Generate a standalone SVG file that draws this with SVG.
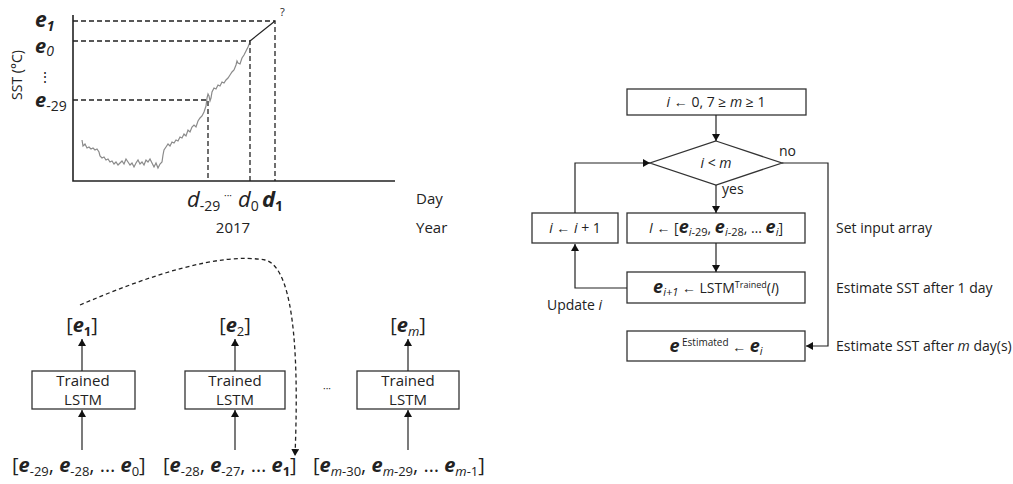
<svg xmlns="http://www.w3.org/2000/svg" width="1013" height="484" viewBox="0 0 1013 484">
<defs>
<marker id="ah" markerWidth="7" markerHeight="8" refX="7" refY="4" orient="auto" markerUnits="userSpaceOnUse"><path d="M0,0 L7,4 L0,8 Z" fill="#111"/></marker>
<style>
.t{font-family:"Open Sans","Noto Sans",sans-serif;fill:#222}
.ln{stroke:#222;stroke-width:1.2;fill:none}
.ax{stroke:#222;stroke-width:1.6;fill:none}
.ds{stroke:#222;stroke-width:1.3;fill:none;stroke-dasharray:5,3}
.bx{fill:#fff;stroke:#333;stroke-width:1.3}
.e{font-weight:bold;font-style:italic}
.it{font-style:italic}
</style>
</defs>
<rect width="1013" height="484" fill="#fff"/>

<g id="chart">
<polyline fill="none" stroke="#8a8a8a" stroke-width="1.2" points="82,140 83,146 85,144 87,148 89,147 91,149 93,148 95,150 97,149 99,152 100,156 102,158 104,157 106,160 108,159 110,162 112,161 114,164 116,162 118,165 120,163 122,161 124,164 126,159 128,162 130,165 132,163 134,167 136,163 138,160 140,164 142,162 144,165 146,160 148,162 150,159 152,163 154,167 156,163 158,168 160,164 162,162 163,155 164,150 166,147 168,144 170,146 172,142 174,143 176,140 178,141 180,137 182,138 184,134 186,136 188,130 190,132 192,127 194,125 196,127 198,121 200,118 202,116 204,112 206,106 207,98 208,94 209,96 210,101 211,98 212,92 214,88 216,89 218,85 220,86 222,82 224,83 226,80 228,78 230,75 232,72 234,70 236,65 237,61 238,63 240,64 242,58 244,55 246,51 248,47 250,42"/>
<polyline class="ax" points="73,15 73,181 395,181"/>
<polyline class="ds" points="73,21 275,21 275,181"/>
<polyline class="ds" points="73,41 250,41 250,181"/>
<polyline class="ds" points="73,100 208,100 208,181"/>
<line class="ln" x1="250" y1="41" x2="275" y2="21"/>
<text class="t" x="280" y="16" font-size="11">?</text>
<text class="t" x="35" y="27" font-size="21"><tspan class="e">e</tspan><tspan class="e" font-size="14" dy="4">1</tspan></text>
<text class="t" x="35" y="53" font-size="20"><tspan class="e" font-weight="600">e</tspan><tspan class="it" font-size="14" dy="3">0</tspan></text>
<text class="t" x="38" y="82" font-size="14">⋮</text>
<text class="t" x="35" y="107" font-size="20"><tspan class="e" font-weight="600">e</tspan><tspan font-size="14" dy="4">-29</tspan></text>
<text class="t" transform="translate(22,75) rotate(-90)" text-anchor="middle" font-size="14" fill="#444">SST (°C)</text>
<text class="t" x="187" y="207" font-size="22"><tspan class="it">d</tspan><tspan font-size="14" dy="4">-29</tspan></text>
<text class="t" x="224" y="199" font-size="10" fill="#555">···</text>
<text class="t" x="238" y="207" font-size="22"><tspan class="it">d</tspan><tspan font-size="14" dy="4">0</tspan></text>
<text class="t" x="262" y="207" font-size="22"><tspan class="e">d</tspan><tspan font-size="14" font-weight="bold" dy="4">1</tspan></text>
<text class="t" x="233" y="233" font-size="15" text-anchor="middle">2017</text>
<text class="t" x="416" y="204" font-size="15">Day</text>
<text class="t" x="416" y="233" font-size="15">Year</text>
</g>

<g id="lstm1">
<rect class="bx" x="32" y="371" width="103" height="38"/>
<text class="t" x="83" y="386" font-size="15" text-anchor="middle" fill="#444">Trained</text>
<text class="t" x="83" y="405" font-size="15" text-anchor="middle" fill="#444">LSTM</text>
<text class="t" x="82" y="332" font-size="20" text-anchor="middle">[<tspan class="e">e</tspan><tspan font-size="13" font-weight="bold" dy="4">1</tspan><tspan dy="-4">]</tspan></text>
</g>
<g id="lstm2">
<rect class="bx" x="185" y="371" width="100" height="38"/>
<text class="t" x="235" y="386" font-size="15" text-anchor="middle" fill="#444">Trained</text>
<text class="t" x="235" y="405" font-size="15" text-anchor="middle" fill="#444">LSTM</text>
<text class="t" x="235" y="332" font-size="20" text-anchor="middle">[<tspan class="e">e</tspan><tspan font-size="13" dy="4">2</tspan><tspan dy="-4">]</tspan></text>
</g>
<g id="lstm3">
<rect class="bx" x="357" y="371" width="102" height="38"/>
<text class="t" x="408" y="386" font-size="15" text-anchor="middle" fill="#444">Trained</text>
<text class="t" x="408" y="405" font-size="15" text-anchor="middle" fill="#444">LSTM</text>
<text class="t" x="408" y="332" font-size="20" text-anchor="middle">[<tspan class="e">e</tspan><tspan class="it" font-size="13" dy="4">m</tspan><tspan dy="-4">]</tspan></text>
</g>
<text class="t" x="323" y="392" font-size="10" fill="#888">···</text>
<g id="inputs">
<text class="t" x="12" y="472" font-size="20">[<tspan class="e">e</tspan><tspan font-size="13" dy="4">-29</tspan><tspan dy="-4">,  </tspan><tspan class="e">e</tspan><tspan font-size="13" dy="4">-28</tspan><tspan dy="-4">,  … </tspan><tspan class="e">e</tspan><tspan font-size="13" dy="4">0</tspan><tspan dy="-4">]</tspan></text>
<text class="t" x="163" y="472" font-size="20">[<tspan class="e">e</tspan><tspan font-size="13" dy="4">-28</tspan><tspan dy="-4">,  </tspan><tspan class="e">e</tspan><tspan font-size="13" dy="4">-27</tspan><tspan dy="-4">,  … </tspan><tspan class="e">e</tspan><tspan font-size="13" font-weight="bold" dy="4">1</tspan><tspan dy="-4">]</tspan></text>
<text class="t" x="313" y="472" font-size="20">[<tspan class="e">e</tspan><tspan font-size="13" dy="4"><tspan class="it">m</tspan>-30</tspan><tspan dy="-4">,  </tspan><tspan class="e">e</tspan><tspan font-size="13" dy="4"><tspan class="it">m</tspan>-29</tspan><tspan dy="-4">,  … </tspan><tspan class="e">e</tspan><tspan font-size="13" dy="4"><tspan class="it">m</tspan>-1</tspan><tspan dy="-4">]</tspan></text>
</g>

<g id="flow-init">
<rect class="bx" x="627" y="89" width="179" height="26"/>
<text class="t" x="716" y="107" font-size="14" text-anchor="middle"><tspan class="it">i</tspan> ← 0, 7 ≥ <tspan class="it">m</tspan> ≥ 1</text>
</g>
<g id="flow-cond">
<polygon class="bx" points="716,141 782,163 716,185 650,163"/>
<text class="t" x="716" y="168" font-size="14" text-anchor="middle"><tspan class="it">i</tspan> &lt; <tspan class="it">m</tspan></text>
</g>
<g id="flow-input">
<rect class="bx" x="627" y="213" width="178" height="30"/>
<text class="t" x="716" y="233" font-size="14" text-anchor="middle"><tspan class="it">I</tspan> ← [<tspan class="e" font-size="18">e</tspan><tspan class="it" font-size="11" dy="3">i</tspan><tspan font-size="11">-29</tspan><tspan dy="-3">,  </tspan><tspan class="e" font-size="18">e</tspan><tspan class="it" font-size="11" dy="3">i</tspan><tspan font-size="11">-28</tspan><tspan dy="-3">,  … </tspan><tspan class="e" font-size="18">e</tspan><tspan class="it" font-size="11" dy="3">i</tspan><tspan dy="-3">]</tspan></text>
</g>
<g id="flow-incr">
<rect class="bx" x="532" y="213" width="86" height="30"/>
<text class="t" x="575" y="233" font-size="14" text-anchor="middle"><tspan class="it">i</tspan> ← <tspan class="it">i</tspan> + 1</text>
</g>
<g id="flow-lstm">
<rect class="bx" x="627" y="272" width="178" height="31"/>
<text class="t" x="716" y="293" font-size="14" text-anchor="middle"><tspan class="e" font-size="18">e</tspan><tspan class="it" font-size="11" dy="3">i+1</tspan><tspan dy="-3"> ← LSTM</tspan><tspan font-size="9" dy="-5">Trained</tspan><tspan dy="5">(</tspan><tspan class="it">I</tspan>)</text>
</g>
<g id="flow-est">
<rect class="bx" x="627" y="331" width="178" height="30"/>
<text class="t" x="716" y="352" font-size="14" text-anchor="middle"><tspan class="e" font-size="18">e</tspan><tspan font-size="10" dy="-6"> Estimated</tspan><tspan dy="6">  ← </tspan><tspan class="e" font-size="18">e</tspan><tspan class="it" font-size="11" dy="3">i</tspan></text>
</g>

<g id="connectors">
<line class="ln" x1="82" y1="450" x2="82" y2="410" marker-end="url(#ah)"/>
<line class="ln" x1="82" y1="371" x2="82" y2="339" marker-end="url(#ah)"/>
<line class="ln" x1="235" y1="450" x2="235" y2="410" marker-end="url(#ah)"/>
<line class="ln" x1="235" y1="371" x2="235" y2="339" marker-end="url(#ah)"/>
<line class="ln" x1="408" y1="450" x2="408" y2="410" marker-end="url(#ah)"/>
<line class="ln" x1="408" y1="371" x2="408" y2="339" marker-end="url(#ah)"/>
<path d="M80,305 C150,275 220,252 265,260 C298,268 298,380 295,456" fill="none" stroke="#222" stroke-width="1.3" stroke-dasharray="4,3" marker-end="url(#ah)"/>
<line class="ln" x1="716" y1="115" x2="716" y2="141" marker-end="url(#ah)"/>
<line class="ln" x1="716" y1="185" x2="716" y2="213" marker-end="url(#ah)"/>
<line class="ln" x1="716" y1="243" x2="716" y2="272" marker-end="url(#ah)"/>
<polyline class="ln" points="627,288 575,288 575,244" marker-end="url(#ah)"/>
<polyline class="ln" points="575,213 575,163 650,163" marker-end="url(#ah)"/>
<polyline class="ln" points="782,163 828,163 828,346 806,346" marker-end="url(#ah)"/>
<text class="t" x="779" y="156" font-size="14">no</text>
<text class="t" x="722" y="194" font-size="14">yes</text>
<text class="t" x="547" y="310" font-size="14">Update <tspan class="it">i</tspan></text>
<text class="t" x="836" y="233" font-size="14">Set input array</text>
<text class="t" x="836" y="293" font-size="14">Estimate SST after 1 day</text>
<text class="t" x="836" y="351" font-size="14">Estimate SST after <tspan class="it">m</tspan> day(s)</text>
</g>
</svg>
